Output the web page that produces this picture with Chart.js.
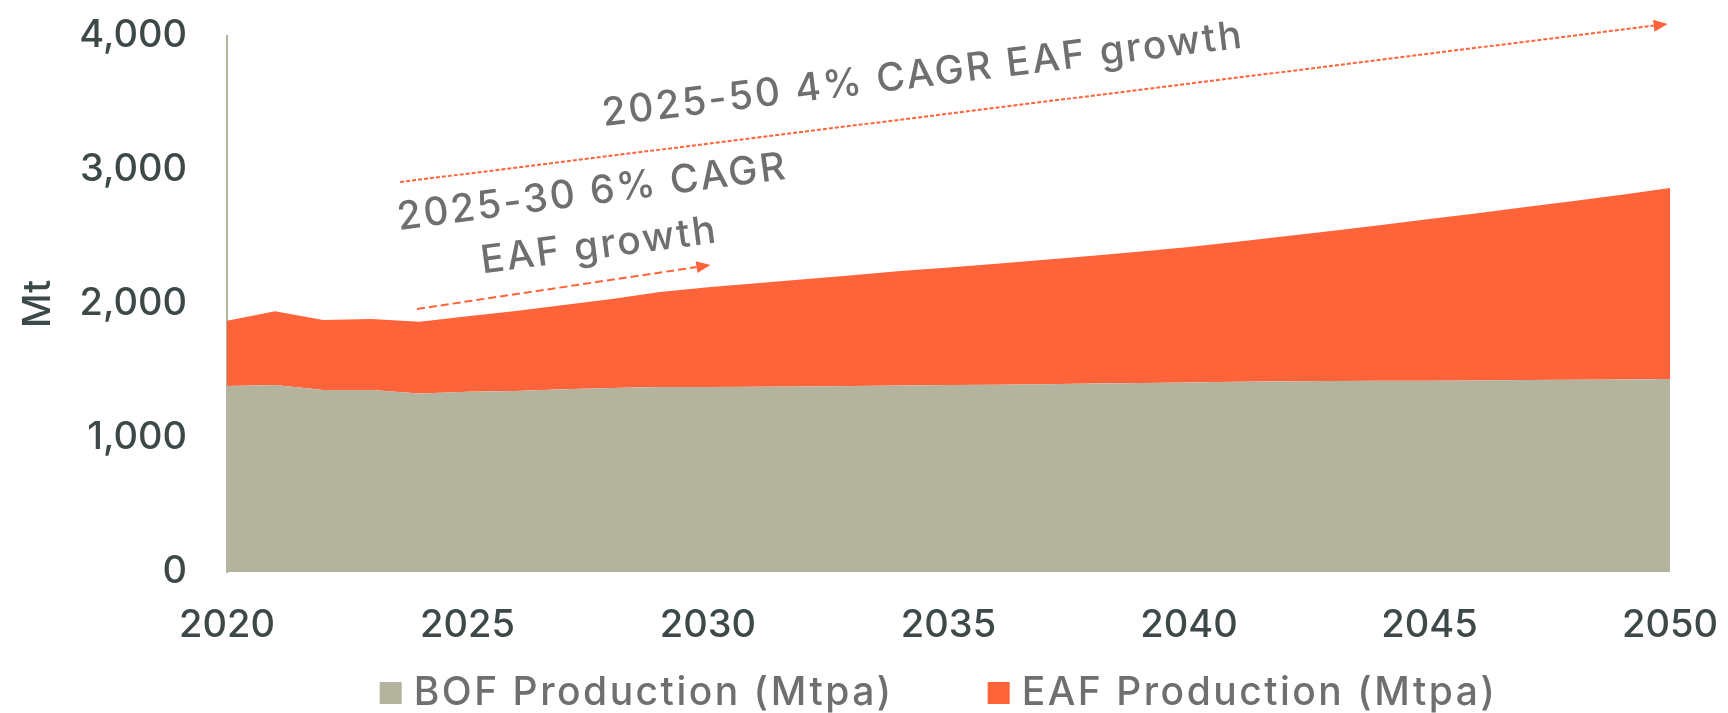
<!DOCTYPE html>
<html>
<head>
<meta charset="utf-8">
<script src="https://cdn.jsdelivr.net/npm/chart.js@4.4.0/dist/chart.umd.min.js"></script>
<style>
  html, body { margin: 0; padding: 0; background: #fff; }
</style>
</head>
<body>
<canvas id="chart" width="1728" height="713"></canvas>
<script>
// data (Mt)
var years = [2020, 2021, 2022, 2023, 2024, 2025, 2026, 2027, 2028, 2029,
             2030, 2031, 2032, 2033, 2034, 2035, 2036, 2037, 2038, 2039,
             2040, 2041, 2042, 2043, 2044, 2045, 2046, 2047, 2048, 2049, 2050];
var bofProduction = [1388, 1395, 1358, 1358, 1333, 1346, 1351, 1363, 1373, 1380,
                     1380, 1382, 1385, 1388, 1392, 1396, 1398, 1402, 1406, 1410,
                     1415, 1420, 1423, 1425, 1427, 1428, 1430, 1432, 1434, 1437, 1440];
var eafProduction = [487, 550, 523, 530, 535, 562, 597, 630, 665, 710,
                     745, 773, 800, 827, 854, 876, 902, 928, 954, 982,
                     1010, 1045, 1082, 1122, 1163, 1206, 1248, 1291, 1335, 1379, 1425];
var seriesLabels = ['BOF Production (Mtpa)', 'EAF Production (Mtpa)'];
var yTickValues = [0, 1000, 2000, 3000, 4000];
var xTickValues = [2020, 2025, 2030, 2035, 2040, 2045, 2050];

var BOF_COLOR = '#b3b39e';
var EAF_COLOR = '#ff6339';
var AXIS_TEXT = '#3d4848';
var NOTE_TEXT = '#6d706f';
var FONT = 'Inter, "Noto Sans", sans-serif';

// callouts, placed in data units (year, Mt)
var arrowNotes = [
  { from: [2023.6, 2910], to: [2049.95, 4090], dash: [4, 2], width: 2 },
  { from: [2023.95, 1963], to: [2030.05, 2291], dash: [8, 4], width: 2 }
];
var textNotes = [
  { at: [2034.47, 3709], angle: 7, lines: ['2025-50 4% CAGR EAF growth'] },
  { at: [2027.67, 2631], angle: 7.5, lines: ['2025-30 6% CAGR', 'EAF growth'], gap: 54 }
];

var calloutPlugin = {
  id: 'callouts',
  afterDatasetsDraw: function(chart) {
    var ctx = chart.ctx, xs = chart.scales.x, ys = chart.scales.y;

    arrowNotes.forEach(function(a) {
      var x0 = xs.getPixelForValue(a.from[0]), y0 = ys.getPixelForValue(a.from[1]);
      var x1 = xs.getPixelForValue(a.to[0]), y1 = ys.getPixelForValue(a.to[1]);
      var ang = Math.atan2(y1 - y0, x1 - x0);
      var head = 14;
      ctx.save();
      ctx.strokeStyle = EAF_COLOR;
      ctx.fillStyle = EAF_COLOR;
      ctx.lineWidth = a.width;
      ctx.setLineDash(a.dash);
      ctx.beginPath();
      ctx.moveTo(x0, y0);
      ctx.lineTo(x1 - head * Math.cos(ang), y1 - head * Math.sin(ang));
      ctx.stroke();
      ctx.setLineDash([]);
      ctx.translate(x1, y1);
      ctx.rotate(ang);
      ctx.beginPath();
      ctx.moveTo(0, 0);
      ctx.lineTo(-head, -6);
      ctx.lineTo(-head, 6);
      ctx.closePath();
      ctx.fill();
      ctx.restore();
    });

    textNotes.forEach(function(t) {
      var cx = xs.getPixelForValue(t.at[0]), cy = ys.getPixelForValue(t.at[1]);
      ctx.save();
      ctx.translate(cx, cy);
      ctx.rotate(-t.angle * Math.PI / 180);
      ctx.font = '500 39px ' + FONT;
      ctx.letterSpacing = '2.4px';
      ctx.fillStyle = NOTE_TEXT;
      ctx.textAlign = 'center';
      ctx.textBaseline = 'middle';
      var n = t.lines.length;
      t.lines.forEach(function(line, i) {
        ctx.fillText(line, 0, (i - (n - 1) / 2) * (t.gap || 0));
      });
      ctx.restore();
    });
  },
  afterDraw: function(chart) {
    // legend drawn by hand so the spacing can match
    var ctx = chart.ctx, area = chart.chartArea;
    var box = 22, textGap = 12, itemGap = 94, y = 693;
    ctx.save();
    ctx.font = '500 39px ' + FONT;
    ctx.letterSpacing = '2.5px';
    ctx.textBaseline = 'middle';
    var ds = chart.data.datasets;
    var total = 0;
    ds.forEach(function(d, i) {
      total += box + textGap + ctx.measureText(d.label).width + (i ? itemGap : 0);
    });
    var x = (area.left + area.right) / 2 - 10 - total / 2;
    ds.forEach(function(d, i) {
      if (i) x += itemGap;
      ctx.fillStyle = d.backgroundColor;
      ctx.fillRect(x, y - box / 2, box, box);
      x += box + textGap;
      ctx.fillStyle = NOTE_TEXT;
      ctx.fillText(d.label, x, y);
      x += ctx.measureText(d.label).width;
    });
    ctx.restore();
  }
};

var ctx = document.getElementById('chart').getContext('2d');
new Chart(ctx, {
  type: 'line',
  data: {
    labels: years,
    datasets: [
      {
        label: seriesLabels[0],
        data: bofProduction,
        backgroundColor: BOF_COLOR,
        borderWidth: 0,
        pointRadius: 0,
        fill: 'origin'
      },
      {
        label: seriesLabels[1],
        data: eafProduction,
        backgroundColor: EAF_COLOR,
        borderWidth: 0,
        pointRadius: 0,
        fill: '-1'
      }
    ]
  },
  options: {
    responsive: false,
    animation: false,
    devicePixelRatio: 1,
    layout: { padding: { top: 36, right: 58, left: 0, bottom: 0 } },
    plugins: {
      legend: { display: false },
      tooltip: { enabled: false }
    },
    scales: {
      x: {
        type: 'linear',
        min: 2020,
        max: 2050,
        afterBuildTicks: function(s) {
          s.ticks = xTickValues.map(function(v) { return { value: v }; });
        },
        afterFit: function(s) {
          s.height = 141;
          s.paddingLeft = 0;
          s.paddingRight = 0;
        },
        grid: { display: false, drawTicks: false },
        border: { display: false },
        ticks: {
          padding: 31,
          maxRotation: 0,
          color: AXIS_TEXT,
          font: { family: FONT, size: 38, weight: '500' },
          callback: function(v) { return String(v); }
        }
      },
      y: {
        stacked: true,
        min: 0,
        max: 4000,
        afterBuildTicks: function(s) {
          s.ticks = yTickValues.map(function(v) { return { value: v }; });
        },
        afterFit: function(s) {
          s.width = 227;
          s.paddingTop = 0;
          s.paddingBottom = 0;
        },
        grid: { display: false, drawTicks: false },
        border: { display: true, color: BOF_COLOR, width: 2 },
        title: {
          display: true,
          text: 'Mt',
          color: AXIS_TEXT,
          font: { family: FONT, size: 38, weight: '500' },
          padding: { top: 16, bottom: 0 }
        },
        ticks: {
          padding: 40,
          color: AXIS_TEXT,
          font: { family: FONT, size: 38, weight: '500' },
          callback: function(v) { return v.toLocaleString('en-US'); }
        }
      }
    }
  },
  plugins: [calloutPlugin]
});
</script>
</body>
</html>
